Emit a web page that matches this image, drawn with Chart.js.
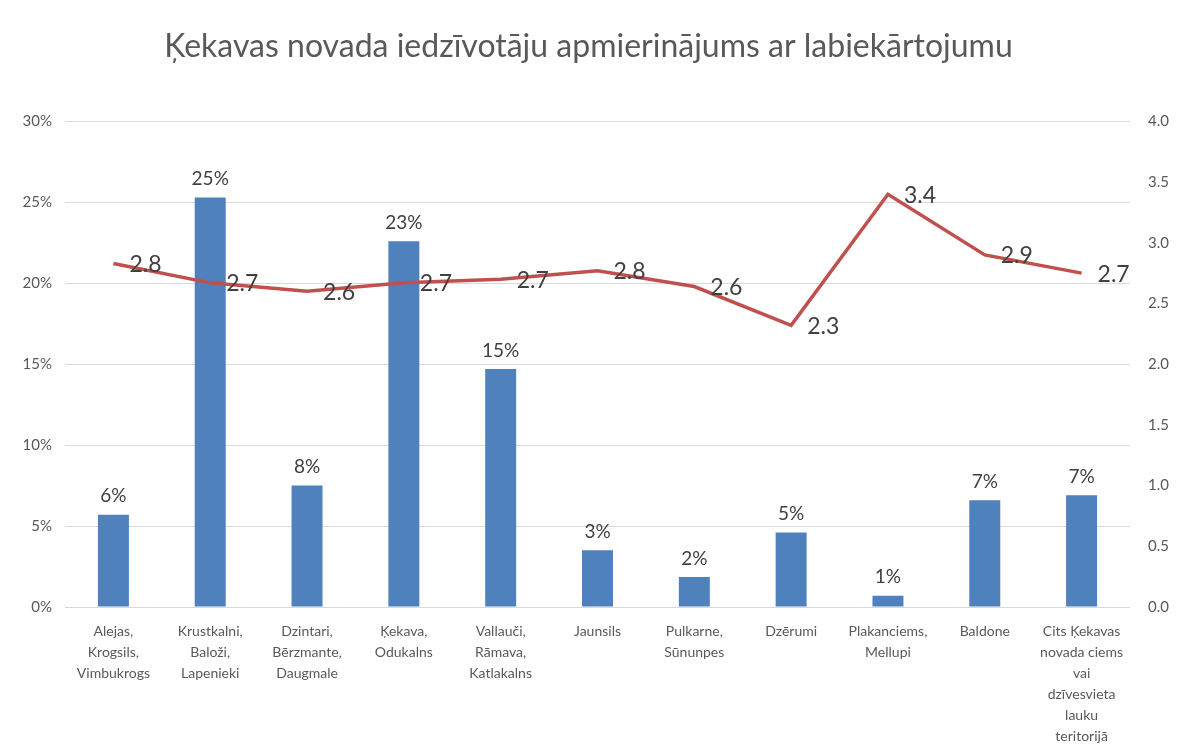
<!DOCTYPE html>
<html>
<head>
<meta charset="utf-8">
<script src="https://cdn.jsdelivr.net/npm/chart.js@4/dist/chart.umd.min.js"></script>
<style>
  html, body { margin: 0; padding: 0; background: #ffffff; }
  #wrap { width: 1177px; height: 749px; position: relative; }
</style>
</head>
<body>
<div id="wrap"><canvas id="c" width="1177" height="749"></canvas></div>
<script>
const titleText = 'Ķekavas novada iedzīvotāju apmierinājums ar labiekārtojumu';
const categories = [
  ['Alejas,', 'Krogsils,', 'Vimbukrogs'],
  ['Krustkalni,', 'Baloži,', 'Lapenieki'],
  ['Dzintari,', 'Bērzmante,', 'Daugmale'],
  ['Ķekava,', 'Odukalns'],
  ['Vallauči,', 'Rāmava,', 'Katlakalns'],
  ['Jaunsils'],
  ['Pulkarne,', 'Sūnunpes'],
  ['Dzērumi'],
  ['Plakanciems,', 'Mellupi'],
  ['Baldone'],
  ['Cits Ķekavas', 'novada ciems', 'vai', 'dzīvesvieta', 'lauku', 'teritorijā']
];
const shareValues = [5.7, 25.3, 7.5, 22.6, 14.7, 3.5, 1.85, 4.6, 0.7, 6.6, 6.9];
const shareLabels = ['6%', '25%', '8%', '23%', '15%', '3%', '2%', '5%', '1%', '7%', '7%'];
const ratingValues = [2.83, 2.67, 2.60, 2.67, 2.70, 2.77, 2.64, 2.32, 3.40, 2.90, 2.75];
const ratingLabels = ['2.8', '2.7', '2.6', '2.7', '2.7', '2.8', '2.6', '2.3', '3.4', '2.9', '2.7'];
const leftTicks = [0, 5, 10, 15, 20, 25, 30];
const rightTicks = [0, 0.5, 1.0, 1.5, 2.0, 2.5, 3.0, 3.5, 4.0];

const FONT = 'Lato, "Open Sans", sans-serif';
const GRID = '#d9d9d9';
const TEXT = '#595959';

const labelPlugin = {
  id: 'valueLabels',
  afterDatasetsDraw(chart) {
    const ctx = chart.ctx;
    ctx.save();
    const barMeta = chart.getDatasetMeta(0);
    ctx.font = '19px ' + FONT;
    ctx.fillStyle = '#404040';
    ctx.textAlign = 'center';
    ctx.textBaseline = 'bottom';
    barMeta.data.forEach((el, i) => {
      ctx.fillText(shareLabels[i], el.x, el.y - 9);
    });
    const lineMeta = chart.getDatasetMeta(1);
    ctx.font = '23px ' + FONT;
    ctx.textAlign = 'left';
    ctx.textBaseline = 'middle';
    lineMeta.data.forEach((el, i) => {
      ctx.fillText(ratingLabels[i], el.x + 16, el.y + 1);
    });
    ctx.restore();
  }
};

new Chart(document.getElementById('c'), {
  data: {
    labels: categories,
    datasets: [
      {
        type: 'bar',
        data: shareValues,
        backgroundColor: '#4F81BD',
        borderWidth: 0,
        yAxisID: 'y',
        categoryPercentage: 1.0,
        barPercentage: 0.32,
        order: 2
      },
      {
        type: 'line',
        data: ratingValues,
        borderColor: '#C0504D',
        borderWidth: 3.5,
        pointRadius: 0,
        tension: 0,
        fill: false,
        yAxisID: 'y1',
        order: 1
      }
    ]
  },
  options: {
    responsive: false,
    animation: false,
    devicePixelRatio: 1,
    layout: { padding: { left: 0, right: 0, top: 0, bottom: 0 } },
    plugins: {
      legend: { display: false },
      tooltip: { enabled: false },
      title: {
        display: true,
        text: titleText,
        color: TEXT,
        font: { family: FONT, size: 32, weight: 'normal' },
        padding: { top: 27, bottom: 56 }
      }
    },
    scales: {
      x: {
        grid: { display: false, drawTicks: false },
        border: { display: false },
        ticks: {
          color: TEXT,
          font: { family: FONT, size: 14, lineHeight: 1.5 },
          padding: 14,
          maxRotation: 0,
          autoSkip: false
        },
        afterFit(scale) { scale.height = 142; }
      },
      y: {
        position: 'left',
        min: 0,
        max: 30,
        afterBuildTicks(scale) { scale.ticks = leftTicks.map(v => ({ value: v })); },
        grid: { color: GRID, lineWidth: 1, drawTicks: false },
        border: { display: false },
        ticks: {
          color: TEXT,
          font: { family: FONT, size: 15 },
          padding: 13,
          callback: v => v + '%'
        },
        afterFit(scale) { scale.width = 65; }
      },
      y1: {
        position: 'right',
        min: 0,
        max: 4,
        afterBuildTicks(scale) { scale.ticks = rightTicks.map(v => ({ value: v })); },
        grid: { display: false, drawTicks: false },
        border: { display: false },
        ticks: {
          color: TEXT,
          font: { family: FONT, size: 15 },
          padding: 18,
          callback: v => Number(v).toFixed(1)
        },
        afterFit(scale) { scale.width = 47; }
      }
    }
  },
  plugins: [labelPlugin]
});
</script>
</body>
</html>
